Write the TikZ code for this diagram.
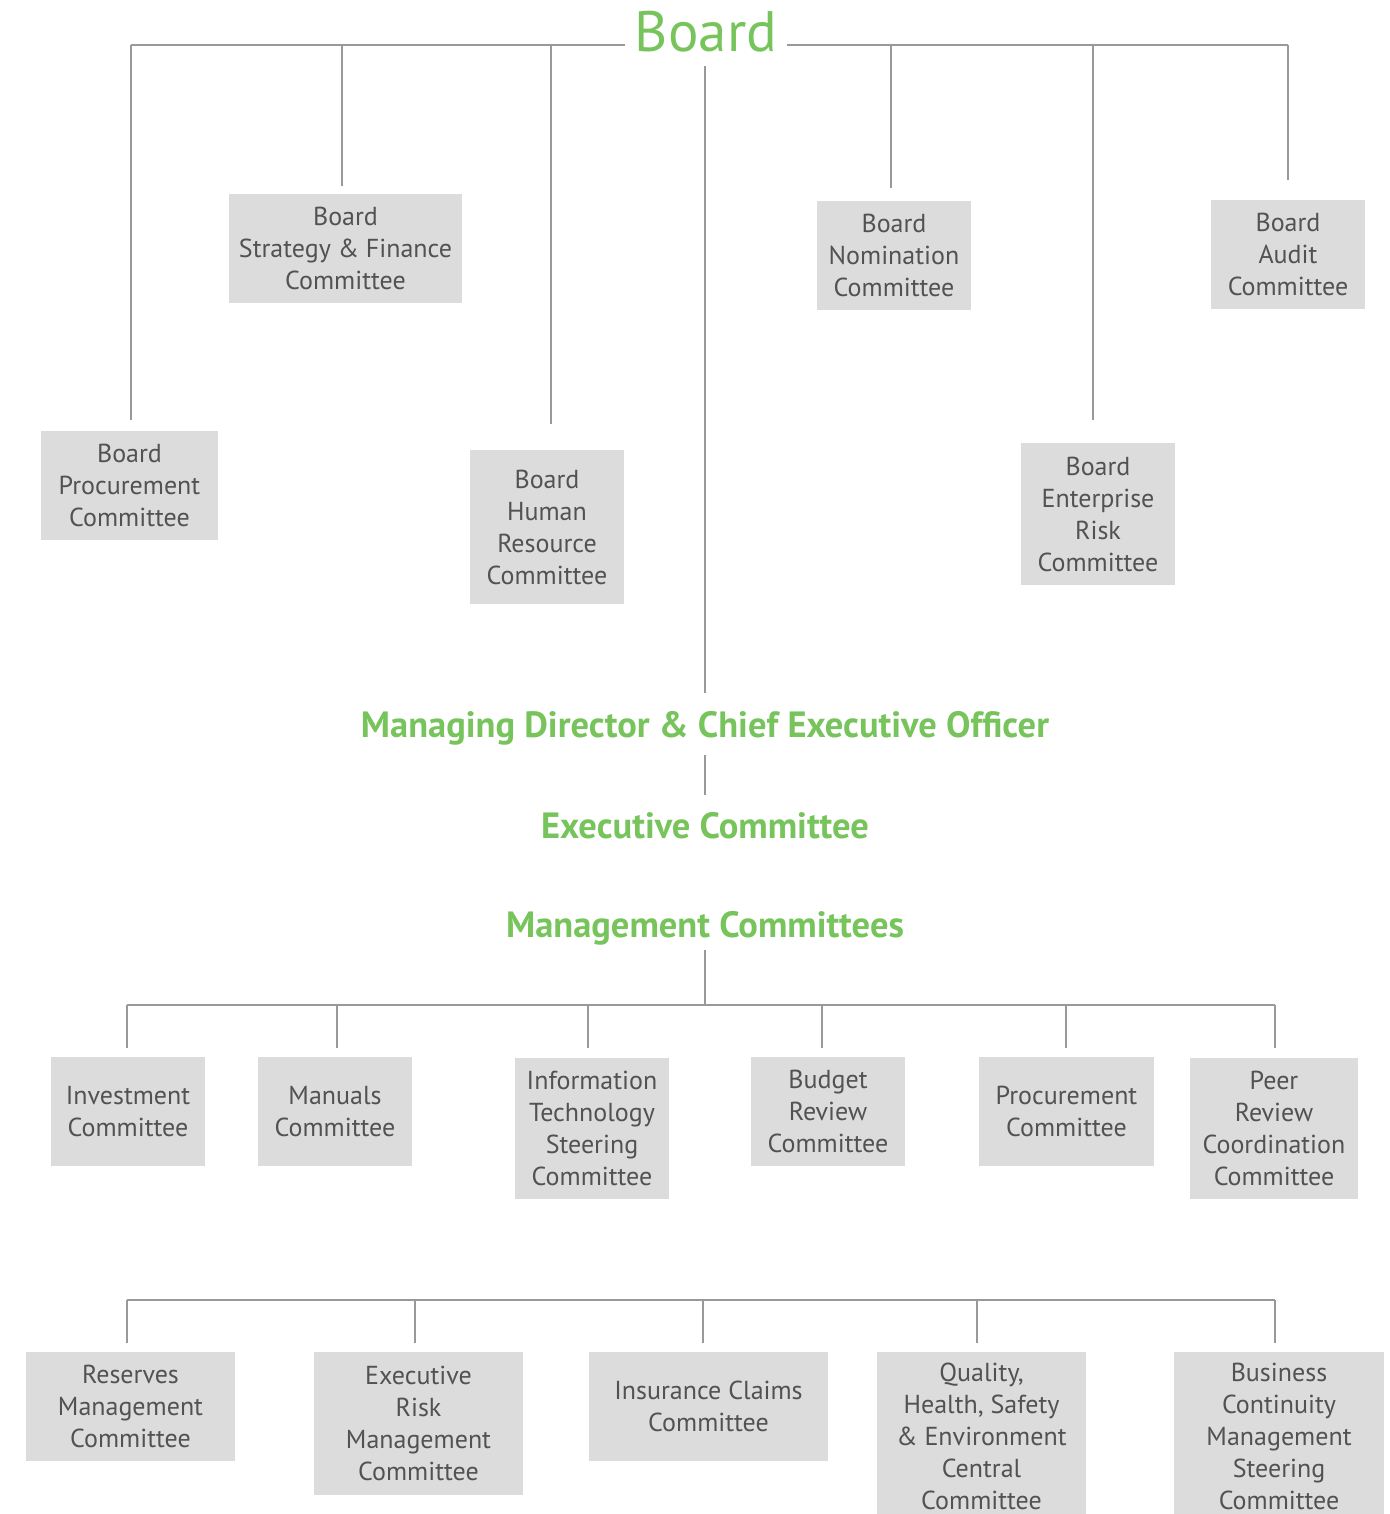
\documentclass[tikz,border=0pt]{standalone}
\usepackage{fontspec}
\setmainfont{PT Sans}
\definecolor{boxgray}{HTML}{DCDCDC}
\definecolor{txtgray}{HTML}{525252}
\definecolor{lngray}{HTML}{999999}
\definecolor{hgreen}{HTML}{78C45C}
\begin{document}
\begin{tikzpicture}[x=1pt,y=-1pt,
  box/.style={fill=boxgray,text=txtgray,align=center,inner sep=0pt,
    font=\fontsize{26}{32}\selectfont},
  ln/.style={draw=lngray,line width=2.6pt},
  head/.style={text=hgreen,inner sep=0pt,anchor=base,font=\bfseries\fontsize{36.5}{40}\selectfont}]
\useasboundingbox (0,0) rectangle (1389,1514);
\clip (0,0) rectangle (1389,1514);
% top level
\node[text=hgreen,anchor=base,inner ysep=0pt,inner xsep=10pt,font=\fontsize{57}{60}\selectfont] (board) at (706,52) {Board};
\node[head] (md) at (705,737) {Managing Director \& Chief Executive Officer};
\node[head] (exec) at (705,838) {Executive Committee};
\node[head] (mgmt) at (705,937) {Management Committees};
% board committees
\node[box,minimum width=177pt,minimum height=109pt] (bproc) at (129.5,485.5) {Board\\Procurement\\Committee};
\node[box,minimum width=233pt,minimum height=109pt] (bstrat) at (345.5,248.5) {Board\\Strategy \& Finance\\Committee};
\node[box,minimum width=154pt,minimum height=154pt] (bhr) at (547,527) {Board\\Human\\Resource\\Committee};
\node[box,minimum width=154pt,minimum height=109pt] (bnom) at (894,255.5) {Board\\Nomination\\Committee};
\node[box,minimum width=154pt,minimum height=142pt] (brisk) at (1098,514) {Board\\Enterprise\\Risk\\Committee};
\node[box,minimum width=154pt,minimum height=109pt] (baudit) at (1288,254.5) {Board\\Audit\\Committee};
% management committees row 1
\node[box,minimum width=154pt,minimum height=109pt] (inv) at (128,1111.5) {Investment\\Committee};
\node[box,minimum width=154pt,minimum height=109pt] (man) at (335,1111.5) {Manuals\\Committee};
\node[box,minimum width=154pt,minimum height=141pt] (its) at (592,1128.5) {Information\\Technology\\Steering\\Committee};
\node[box,minimum width=154pt,minimum height=109pt] (bud) at (828,1111.5) {Budget\\Review\\Committee};
\node[box,minimum width=175pt,minimum height=109pt] (proc) at (1066.5,1111.5) {Procurement\\Committee};
\node[box,minimum width=168pt,minimum height=141pt] (peer) at (1274,1128.5) {Peer\\Review\\Coordination\\Committee};
% row 2
\node[box,minimum width=209pt,minimum height=109pt] (res) at (130.5,1406.5) {Reserves\\Management\\Committee};
\node[box,minimum width=209pt,minimum height=143pt] (erm) at (418.5,1423.5) {Executive\\Risk\\Management\\Committee};
\node[box,minimum width=239pt,minimum height=109pt] (ins) at (708.5,1406.5) {Insurance Claims\\Committee};
\node[box,minimum width=209pt,minimum height=168pt] (qhse) at (981.5,1436) {Quality,\\Health, Safety\\\& Environment\\Central\\Committee};
\node[box,minimum width=210pt,minimum height=168pt] (bcm) at (1279,1436) {Business\\Continuity\\Management\\Steering\\Committee};
% top bus
\coordinate (t1) at (131,45);
\coordinate (t2) at (342,45);
\coordinate (t3) at (551,45);
\coordinate (t5) at (891,45);
\coordinate (t6) at (1093,45);
\coordinate (t7) at (1288,45);
\draw[ln] (t1) -- (t1 -| board.west);
\draw[ln] (board.east |- t7) -- (t7);
\draw[ln,shorten >=11pt] (t1) -- (t1 |- bproc.north);
\draw[ln,shorten >=8pt] (t2) -- (t2 |- bstrat.north);
\draw[ln,shorten >=26pt] (t3) -- (t3 |- bhr.north);
\draw[ln,shorten >=13pt] (t5) -- (t5 |- bnom.north);
\draw[ln,shorten >=23pt] (t6) -- (t6 |- brisk.north);
\draw[ln,shorten >=20pt] (t7) -- (t7 |- baudit.north);
\coordinate (bs) at (705,66);
\draw[ln] (bs) -- (bs |- 0,693);
\coordinate (ms) at (705,755);
\draw[ln] (ms) -- (705,795);
% management bus row 1
\coordinate (mb) at (705,950);
\coordinate (m1) at (127,1005);
\coordinate (m2) at (337,1005);
\coordinate (m3) at (588,1005);
\coordinate (m4) at (822,1005);
\coordinate (m5) at (1066,1005);
\coordinate (m6) at (1275,1005);
\draw[ln] (mb) -- (mb |- m1);
\draw[ln] (m1) -- (m6);
\draw[ln,shorten >=9pt] (m1) -- (m1 |- inv.north);
\draw[ln,shorten >=9pt] (m2) -- (m2 |- man.north);
\draw[ln,shorten >=10pt] (m3) -- (m3 |- its.north);
\draw[ln,shorten >=9pt] (m4) -- (m4 |- bud.north);
\draw[ln,shorten >=9pt] (m5) -- (m5 |- proc.north);
\draw[ln,shorten >=10pt] (m6) -- (m6 |- peer.north);
% row 2 bus
\coordinate (r1) at (127,1300);
\coordinate (r2) at (415,1300);
\coordinate (r3) at (703,1300);
\coordinate (r4) at (977,1300);
\coordinate (r5) at (1275,1300);
\draw[ln] (r1) -- (r5);
\draw[ln,shorten >=9pt] (r1) -- (r1 |- res.north);
\draw[ln,shorten >=9pt] (r2) -- (r2 |- erm.north);
\draw[ln,shorten >=9pt] (r3) -- (r3 |- ins.north);
\draw[ln,shorten >=9pt] (r4) -- (r4 |- qhse.north);
\draw[ln,shorten >=9pt] (r5) -- (r5 |- bcm.north);
\end{tikzpicture}
\end{document}
